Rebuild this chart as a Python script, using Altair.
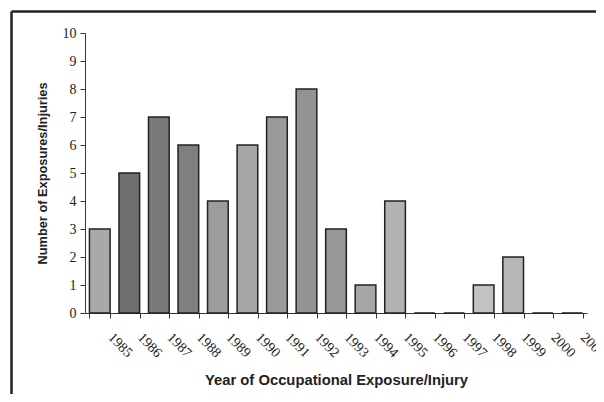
import altair as alt
import pandas as pd

years = [str(y) for y in range(1985, 2002)]
counts = [3, 5, 7, 6, 4, 6, 7, 8, 3, 1, 4, 0, 0, 1, 2, 0, 0]
shades = ["#a9a9a9", "#6f6f6f", "#7a7a7a", "#7f7f7f", "#9c9c9c", "#a6a6a6",
          "#9a9a9a", "#939393", "#979797", "#a7a7a7", "#b2b2b2", "#b8b8b8",
          "#b8b8b8", "#c2c2c2", "#b6b6b6", "#b8b8b8", "#b8b8b8"]

df = pd.DataFrame({"year": years, "count": counts})

x_enc = alt.X(
    "year:N",
    sort=years,
    scale=alt.Scale(paddingInner=0.3, paddingOuter=0.15),
    axis=alt.Axis(
        title="Year of Occupational Exposure/Injury",
        labelAngle=45,
        labelAlign="left",
        labelBaseline="middle",
        labelOffset=10,
        labelPadding=17,
        labelFont="Liberation Serif",
        labelFontSize=14,
        labelColor="#222222",
        tickBand="extent",
        tickSize=5,
        tickColor="#333333",
        domainColor="#333333",
        titleFont="Liberation Sans",
        titleFontSize=14.8,
        titleFontWeight="bold",
        titleColor="#222222",
        titleX=251,
        titleY=71,
        titleBaseline="alphabetic",
        titleAnchor="middle",
        titleAlign="center",
    ),
)

y_enc = alt.Y(
    "count:Q",
    scale=alt.Scale(domain=[0, 10], nice=False),
    axis=alt.Axis(
        title="Number of Exposures/Injuries",
        values=list(range(0, 11)),
        grid=False,
        tickSize=5,
        tickColor="#333333",
        domainColor="#333333",
        labelFont="Liberation Serif",
        labelFontSize=14,
        labelColor="#222222",
        labelPadding=4,
        titleFont="Liberation Sans",
        titleFontSize=12.8,
        titleFontWeight="bold",
        titleColor="#222222",
        titleX=-43,
        titleBaseline="middle",
        titleAngle=-90,
    ),
)

bars = alt.Chart(df).mark_bar(stroke="#222222", strokeWidth=1.5).encode(
    x=x_enc,
    y=y_enc,
    color=alt.Color("year:N", scale=alt.Scale(domain=years, range=shades), legend=None),
)

frame_data = alt.Data(values=[{"k": 1}])
top_line = alt.Chart(frame_data).mark_rule(color="#222222", strokeWidth=2.5).encode(
    x=alt.value(-73.5), x2=alt.value(530), y=alt.value(-21.5)
)
left_line = alt.Chart(frame_data).mark_rule(color="#222222", strokeWidth=2.5).encode(
    x=alt.value(-73.5), y=alt.value(-21.5), y2=alt.value(380)
)

chart = alt.layer(bars, top_line, left_line).properties(
    width=502,
    height=280,
    autosize=alt.AutoSizeParams(type="none"),
    padding={"left": 77, "top": 25, "right": 9, "bottom": 81},
    background="white",
).configure_view(stroke=None)

chart.save("out.html", embed_options={"renderer": "svg", "actions": False})
